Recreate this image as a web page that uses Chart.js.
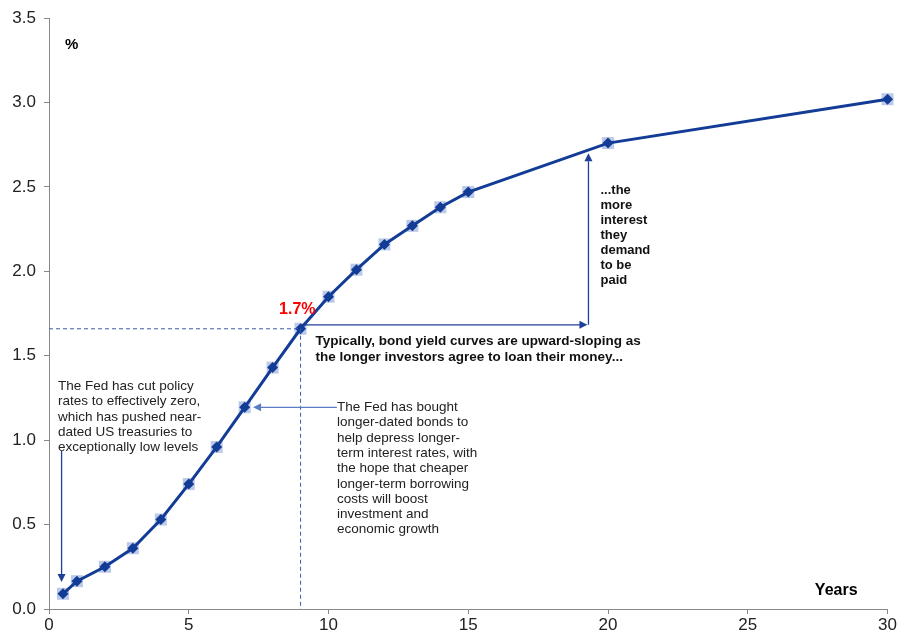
<!DOCTYPE html>
<html>
<head>
<meta charset="utf-8">
<script src="https://cdn.jsdelivr.net/npm/chart.js@4/dist/chart.umd.min.js"></script>
<style>
  html, body { margin: 0; padding: 0; background: #fff; }
  #wrap { width: 898px; height: 638px; }
</style>
</head>
<body>
<div id="wrap"><canvas id="c" width="898" height="638"></canvas></div>
<script>
// Yield curve: maturity in years and yield in %
const maturities = [0.5, 1, 2, 3, 4, 5, 6, 7, 8, 9, 10, 11, 12, 13, 14, 15, 20, 30];
const yields = [0.09, 0.165, 0.25, 0.36, 0.53, 0.74, 0.96, 1.195, 1.43, 1.66, 1.85, 2.01, 2.16, 2.27, 2.38, 2.47, 2.76, 3.02];
const yTicks = [0, 0.5, 1, 1.5, 2, 2.5, 3, 3.5];
const xTicks = [0, 5, 10, 15, 20, 25, 30];

// Annotation anchors (in data units)
const highlightYear = 9;          // maturity called out with dashed guides
const upArrowYear = 19.3;         // where the step arrow turns upward
const upArrowTop = 2.7;
const qeArrowYear = 7.3;          // arrowhead next to the 7-year point
const qeArrowFrom = 10.3;
const qeArrowLevel = 1.195;
const zeroArrowYear = 0.45;
const zeroArrowFrom = 0.96;
const zeroArrowTo = 0.16;

const noteZero = ["The Fed has cut policy", "rates to effectively zero,", "which has pushed near-", "dated US treasuries to", "exceptionally low levels"];
const noteQE = ["The Fed has bought", "longer-dated bonds to", "help depress longer-", "term interest rates, with", "the hope that cheaper", "longer-term borrowing", "costs will boost", "investment and", "economic growth"];
const noteSlope = ["Typically, bond yield curves are upward-sloping as", "the longer investors agree to loan their money..."];
const noteMore = ["...the", "more", "interest", "they", "demand", "to be", "paid"];

const points = maturities.map((m, i) => ({ x: m, y: yields[i] }));
const FONT = "Arial, 'Liberation Sans', sans-serif";

function arrowHead(ctx, x, y, dir, size) {
  // dir: angle the arrow points to
  ctx.save();
  ctx.translate(x, y);
  ctx.rotate(dir);
  ctx.beginPath();
  ctx.moveTo(0, 0);
  ctx.lineTo(-size, -size * 0.5);
  ctx.lineTo(-size, size * 0.5);
  ctx.closePath();
  ctx.fill();
  ctx.restore();
}

const annotations = {
  id: 'annotations',
  afterDatasetsDraw(chart) {
    const { ctx, scales: { x, y }, chartArea } = chart;
    const hi = maturities.indexOf(highlightYear);
    const hx = x.getPixelForValue(highlightYear);
    const hy = y.getPixelForValue(yields[hi]);

    ctx.save();
    // dashed guides to the axes
    ctx.strokeStyle = '#3a5cb0';
    ctx.lineWidth = 1;
    ctx.setLineDash([4, 3]);
    ctx.beginPath();
    ctx.moveTo(chartArea.left, hy);
    ctx.lineTo(hx, hy);
    ctx.moveTo(hx, hy);
    ctx.lineTo(hx, chartArea.bottom);
    ctx.stroke();
    ctx.setLineDash([]);

    // step arrow: right, then up
    const ux = x.getPixelForValue(upArrowYear);
    const uy = y.getPixelForValue(upArrowTop);
    ctx.strokeStyle = '#1f3f99';
    ctx.fillStyle = '#1f3f99';
    ctx.lineWidth = 1.3;
    ctx.beginPath();
    ctx.moveTo(hx, hy - 4);
    ctx.lineTo(ux - 8, hy - 4);
    ctx.stroke();
    arrowHead(ctx, ux - 1, hy - 4, 0, 8);
    ctx.beginPath();
    ctx.moveTo(ux, hy - 4);
    ctx.lineTo(ux, uy + 8);
    ctx.stroke();
    arrowHead(ctx, ux, uy, -Math.PI / 2, 8);

    // arrow down to the short end
    const zx = x.getPixelForValue(zeroArrowYear);
    ctx.beginPath();
    ctx.moveTo(zx, y.getPixelForValue(zeroArrowFrom) + 4);
    ctx.lineTo(zx, y.getPixelForValue(zeroArrowTo) - 8);
    ctx.stroke();
    arrowHead(ctx, zx, y.getPixelForValue(zeroArrowTo), Math.PI / 2, 8);

    // arrow pointing at the 7-year point
    const qy = y.getPixelForValue(qeArrowLevel);
    ctx.strokeStyle = '#5b7cc4';
    ctx.fillStyle = '#5b7cc4';
    ctx.beginPath();
    ctx.moveTo(x.getPixelForValue(qeArrowFrom), qy);
    ctx.lineTo(x.getPixelForValue(qeArrowYear) + 8, qy);
    ctx.stroke();
    arrowHead(ctx, x.getPixelForValue(qeArrowYear), qy, Math.PI, 8);

    // text
    ctx.textBaseline = 'middle';
    ctx.textAlign = 'left';
    ctx.fillStyle = '#000';
    ctx.font = 'bold 15px ' + FONT;
    ctx.fillText('%', chartArea.left + 16, y.getPixelForValue(3.34));
    ctx.font = 'bold 16px ' + FONT;
    ctx.fillText('Years', x.getPixelForValue(27.4), y.getPixelForValue(0.11));

    ctx.fillStyle = '#ff0000';
    ctx.font = 'bold 16px ' + FONT;
    ctx.textAlign = 'right';
    ctx.fillText(yields[hi].toFixed(1) + '%', hx + 15, hy - 19);
    ctx.textAlign = 'left';

    ctx.fillStyle = '#111';
    ctx.font = 'bold 13.5px ' + FONT;
    noteSlope.forEach((t, i) => ctx.fillText(t, hx + 15, hy + 12 + i * 16));
    ctx.font = 'bold 13px ' + FONT;
    noteMore.forEach((t, i) => ctx.fillText(t, ux + 12, y.getPixelForValue(2.5) + 3 + i * 15));

    ctx.fillStyle = '#222';
    ctx.font = '13.5px ' + FONT;
    noteZero.forEach((t, i) => ctx.fillText(t, chartArea.left + 9, y.getPixelForValue(1.32) + i * 15.3));
    noteQE.forEach((t, i) => ctx.fillText(t, x.getPixelForValue(qeArrowFrom), qy + i * 15.3));
    ctx.restore();
  }
};

new Chart(document.getElementById('c'), {
  type: 'scatter',
  data: {
    datasets: [
      {
        data: points,
        showLine: true,
        clip: false,
        borderColor: '#123c96',
        borderWidth: 3,
        pointStyle: 'rectRot',
        pointRadius: 5.5,
        pointBackgroundColor: '#123c96',
        pointBorderColor: '#123c96',
        pointBorderWidth: 0,
        order: 1
      },
      {
        data: points,
        showLine: false,
        clip: false,
        pointStyle: 'rect',
        pointRadius: 8.5,
        pointBackgroundColor: '#bccae8',
        pointBorderWidth: 0,
        order: 2
      }
    ]
  },
  options: {
    responsive: false,
    animation: false,
    layout: { padding: { top: 17, right: 10, left: 0, bottom: 0 } },
    plugins: { legend: { display: false }, tooltip: { enabled: false } },
    scales: {
      x: {
        type: 'linear',
        min: 0, max: 30,
        afterBuildTicks: s => { s.ticks = xTicks.map(v => ({ value: v })); },
        afterFit: s => { s.height = 29; },
        grid: { drawOnChartArea: false, tickLength: 5, color: '#888', tickColor: '#888' },
        border: { color: '#888', width: 1 },
        ticks: { color: '#222', font: { size: 17, family: FONT }, padding: 1, maxRotation: 0 }
      },
      y: {
        min: 0, max: 3.5,
        afterBuildTicks: s => { s.ticks = yTicks.map(v => ({ value: v })); },
        afterFit: s => { s.width = 49; },
        grid: { drawOnChartArea: false, tickLength: 5, color: '#888', tickColor: '#888' },
        border: { color: '#888', width: 1 },
        ticks: { color: '#222', font: { size: 17, family: FONT }, padding: 8, callback: v => v.toFixed(1) }
      }
    }
  },
  plugins: [annotations]
});
</script>
</body>
</html>
